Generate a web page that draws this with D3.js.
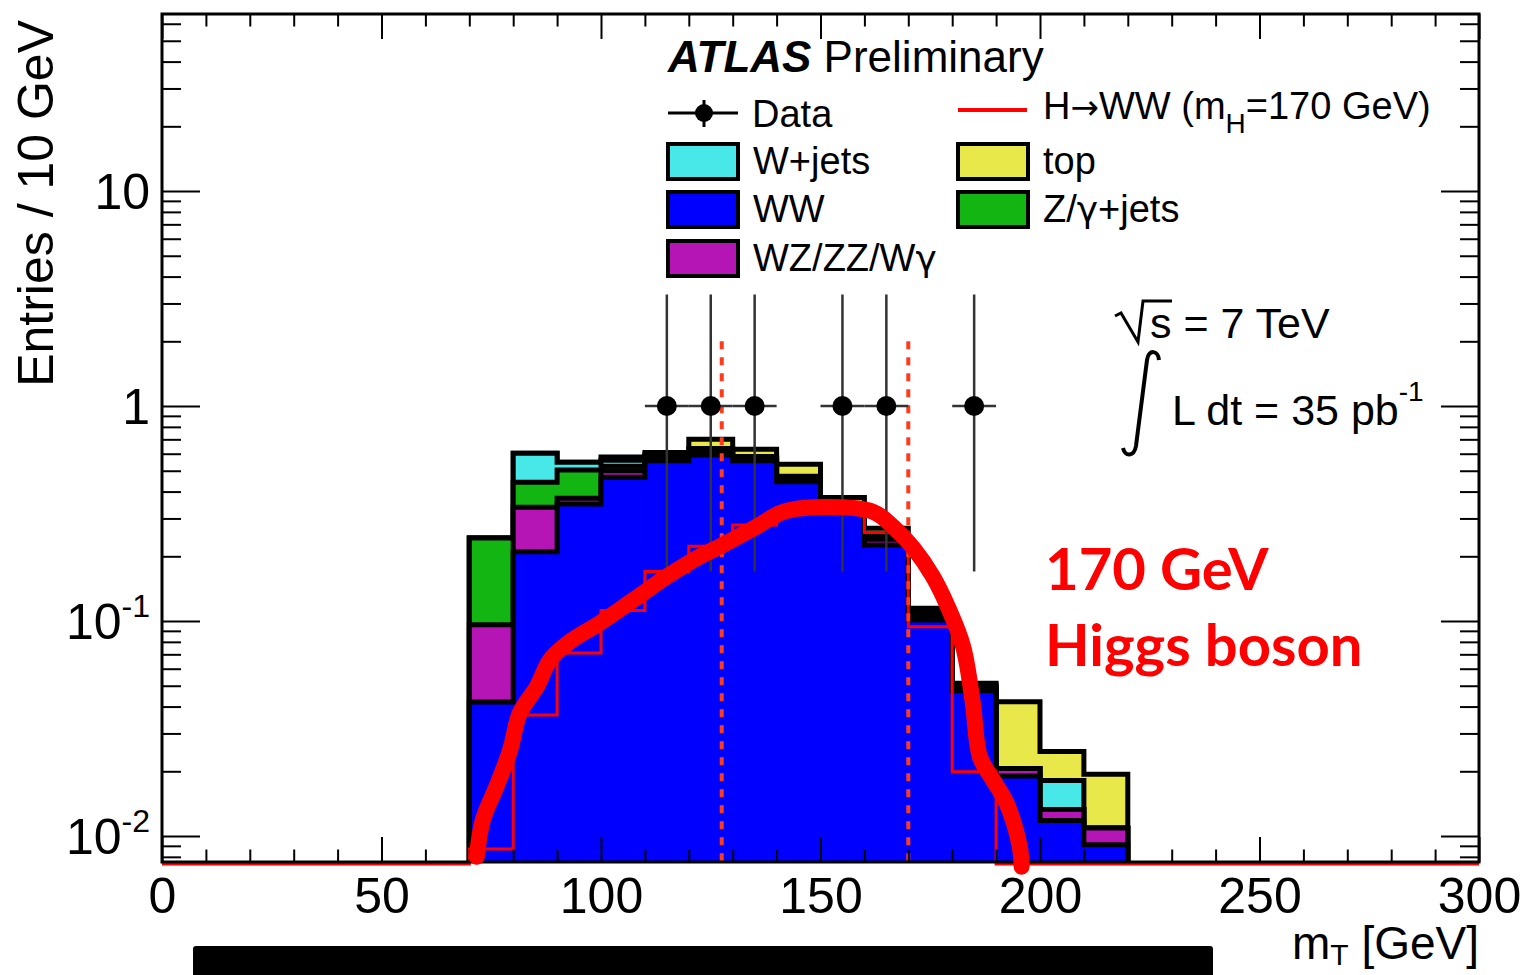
<!DOCTYPE html>
<html lang="en">
<head>
<meta charset="UTF-8">
<title>ATLAS H→WW transverse mass</title>
<script src="https://d3js.org/d3.v7.min.js"></script>
<style>
  body { margin: 0; background: #fff; }
  svg { display: block; font-family: "Liberation Sans", Arial, Helvetica, sans-serif; }
  .greek { font-family: "DejaVu Sans", sans-serif; }
</style>
</head>
<body>
<div id="chart"></div>
<script>
// bin low edges (GeV), bins are 10 GeV wide
const binLow = [70, 80, 90, 100, 110, 120, 130, 140, 150, 160, 170, 180, 190, 200, 210];
const binWidth = 10;

// stacked backgrounds, listed bottom to top
const ww     = [0.042, 0.210, 0.350, 0.466, 0.557, 0.592, 0.557, 0.445, 0.336, 0.226, 0.101, 0.0474, 0.0190, 0.0118, 0.0091];
const wzzz   = [0.054, 0.128, 0.022, 0.034, 0.015, 0.010, 0.010, 0.012, 0.007, 0.014, 0.005, 0.0015, 0.0016, 0.0015, 0.0018];
const zjets  = [0.147, 0.104, 0.132, 0.025, 0.010, 0.008, 0.006, 0.005, 0.003, 0.003, 0.001, 0.0004, 0, 0, 0];
const wjets  = [0, 0.161, 0.043, 0.035, 0.012, 0.025, 0.010, 0.010, 0.004, 0.007, 0.004, 0.0010, 0, 0.0048, 0];
const topBkg = [0, 0, 0, 0.020, 0.014, 0.065, 0.046, 0.064, 0.025, 0.020, 0.0036, 0.0010, 0.0215, 0.0066, 0.0085];

// legend text split around the greek letter: [before, greek, after]
const layerNames  = [["WW", "", ""], ["WZ/ZZ/W", "γ", ""], ["Z/", "γ", "+jets"], ["W+jets", "", ""], ["top", "", ""]];
const layerColors = ["#0000ff", "#b515b5", "#12b512", "#48e8e8", "#e8e84a"];

// H -> WW signal, mH = 170 GeV
const signal = [0.0087, 0.0365, 0.071, 0.112, 0.170, 0.223, 0.280, 0.318, 0.320, 0.258, 0.094, 0.0199, 0, 0, 0];

// data points
const dataX = [115, 125, 135, 155, 165, 185];
const dataY = [1, 1, 1, 1, 1, 1];
const dataErrUp = [2.3, 2.3, 2.3, 2.3, 2.3, 2.3];
const dataErrLo = [0.83, 0.83, 0.83, 0.83, 0.83, 0.83];

// mT cut window, 0.75 mH < mT < mH
const cutX = [127.5, 170];
const cutTop = 2;

// hand drawn highlight curve
const curveX = [71.7, 73.1, 76.2, 79.3, 81.5, 85.4, 88.4, 92.9, 99.8, 107.3, 115.0, 121.8, 127.8, 135.5, 141.5, 151.4, 162.0, 166.5, 171.1, 175.6, 179.0, 182.5, 184.7, 186.3, 189.3, 192.4, 195.4, 195.8];
const curveY = [0.0080, 0.0119, 0.0170, 0.0251, 0.0373, 0.0495, 0.0659, 0.0801, 0.098, 0.125, 0.161, 0.196, 0.226, 0.275, 0.322, 0.339, 0.322, 0.275, 0.219, 0.161, 0.1166, 0.0759, 0.0416, 0.0234, 0.0182, 0.0142, 0.0089, 0.0072];

// axes
const xTicks = [0, 50, 100, 150, 200, 250, 300];
const yTicks = [0.01, 0.1, 1, 10];
const yTickLabels = [["10", "-2"], ["10", "-1"], ["1", ""], ["10", ""]];

const W = 1524, H = 975;
const L = 162, R = 1479, T = 14, B = 862;

const svg = d3.select("#chart").append("svg")
    .attr("width", W)
    .attr("height", H);

svg.append("rect").attr("width", W).attr("height", H).attr("fill", "#fff");

const x = d3.scaleLinear().domain([0, 300]).range([L, R]);
const y = d3.scaleLog().domain([0.00757, 66.6]).range([B, T]);
const yv = v => v > 0 ? y(v) : B + 2;

svg.append("clipPath").attr("id", "plotClip")
    .append("rect").attr("x", L).attr("y", T).attr("width", R - L).attr("height", B - T);

// step outline of a binned histogram
function stepPoints(vals, xStart, xEnd) {
    const pts = [[xStart, 0], [binLow[0], 0]];
    vals.forEach((v, i) => {
        pts.push([binLow[i], v]);
        pts.push([binLow[i] + binWidth, v]);
    });
    pts.push([binLow[binLow.length - 1] + binWidth, 0]);
    pts.push([xEnd, 0]);
    return pts;
}

const line = d3.line().x(d => x(d[0])).y(d => yv(d[1]));

// cumulative stack
const layers = [ww, wzzz, zjets, wjets, topBkg];
const cum = [];
layers.forEach((l, k) => {
    cum.push(l.map((v, i) => v + (k > 0 ? cum[k - 1][i] : 0)));
});

const stack = svg.append("g").attr("clip-path", "url(#plotClip)");
for (let k = layers.length - 1; k >= 0; k--) {
    const pts = stepPoints(cum[k], binLow[0], binLow[binLow.length - 1] + binWidth);
    stack.append("path")
        .attr("d", line(pts) + "Z")
        .attr("fill", layerColors[k])
        .attr("stroke", "none");
    stack.append("path")
        .attr("d", line(pts))
        .attr("fill", "none")
        .attr("stroke", "#000")
        .attr("stroke-width", 5);
}

// signal histogram
svg.append("path")
    .attr("d", line(stepPoints(signal, 0, 300)))
    .attr("fill", "none")
    .attr("stroke", "#ff0000")
    .attr("stroke-width", 3);

// cut lines
svg.selectAll(".cut").data(cutX).join("line")
    .attr("class", "cut")
    .attr("x1", d => x(d)).attr("x2", d => x(d))
    .attr("y1", y(cutTop)).attr("y2", B)
    .attr("stroke", "#ff3b1b")
    .attr("stroke-width", 4)
    .attr("stroke-dasharray", "8,8");

// data points
const pts = svg.append("g");
dataX.forEach((dx, i) => {
    pts.append("line")
        .attr("x1", x(dx)).attr("x2", x(dx))
        .attr("y1", y(dataY[i] + dataErrUp[i])).attr("y2", y(dataY[i] - dataErrLo[i]))
        .attr("stroke", "#333").attr("stroke-width", 2.5);
    pts.append("line")
        .attr("x1", x(dx - binWidth / 2)).attr("x2", x(dx + binWidth / 2))
        .attr("y1", y(dataY[i])).attr("y2", y(dataY[i]))
        .attr("stroke", "#333").attr("stroke-width", 2.5);
    pts.append("circle")
        .attr("cx", x(dx)).attr("cy", y(dataY[i])).attr("r", 10)
        .attr("fill", "#000");
});

// axes with ticks on all sides, pointing inward
const xMinor = d3.range(10, 300, 10).filter(v => v % 50 !== 0);
const yMinor = [];
[0.001, 0.01, 0.1, 1, 10].forEach(d => {
    for (let m = 2; m <= 9; m++) {
        const v = m * d;
        if (v >= 0.00757 && v <= 66.6) yMinor.push(v);
    }
});

function styleAxis(g) {
    g.select(".domain").remove();
    g.selectAll("line").attr("stroke", "#000").attr("stroke-width", 2);
}

svg.append("g").attr("transform", `translate(0,${B})`)
    .call(d3.axisBottom(x).tickValues(xTicks).tickSize(-25).tickSizeOuter(0).tickPadding(15).tickFormat(d3.format("d")))
    .call(styleAxis)
    .call(g => g.selectAll("text").attr("font-size", 50).attr("fill", "#000")
        .attr("font-family", "Liberation Sans, Arial, sans-serif"));
svg.append("g").attr("transform", `translate(0,${B})`)
    .call(d3.axisBottom(x).tickValues(xMinor).tickSize(-12.5).tickSizeOuter(0).tickFormat(""))
    .call(styleAxis);
svg.append("g").attr("transform", `translate(0,${T})`)
    .call(d3.axisTop(x).tickValues(xTicks).tickSize(-25).tickSizeOuter(0).tickFormat(""))
    .call(styleAxis);
svg.append("g").attr("transform", `translate(0,${T})`)
    .call(d3.axisTop(x).tickValues(xMinor).tickSize(-12.5).tickSizeOuter(0).tickFormat(""))
    .call(styleAxis);
svg.append("g").attr("transform", `translate(${L},0)`)
    .call(d3.axisLeft(y).tickValues(yTicks).tickSize(-38).tickSizeOuter(0).tickFormat(""))
    .call(styleAxis);
svg.append("g").attr("transform", `translate(${L},0)`)
    .call(d3.axisLeft(y).tickValues(yMinor).tickSize(-19).tickSizeOuter(0).tickFormat(""))
    .call(styleAxis);
svg.append("g").attr("transform", `translate(${R},0)`)
    .call(d3.axisRight(y).tickValues(yTicks).tickSize(-38).tickSizeOuter(0).tickFormat(""))
    .call(styleAxis);
svg.append("g").attr("transform", `translate(${R},0)`)
    .call(d3.axisRight(y).tickValues(yMinor).tickSize(-19).tickSizeOuter(0).tickFormat(""))
    .call(styleAxis);

svg.append("rect")
    .attr("x", L).attr("y", T).attr("width", R - L).attr("height", B - T)
    .attr("fill", "none").attr("stroke", "#000").attr("stroke-width", 3);

// y tick labels with exponents
yTicks.forEach((v, i) => {
    const t = svg.append("text")
        .attr("x", 150).attr("y", y(v) + 18)
        .attr("text-anchor", "end")
        .attr("font-size", 50);
    t.append("tspan").text(yTickLabels[i][0]);
    if (yTickLabels[i][1]) {
        t.append("tspan").attr("dy", -22).attr("font-size", 32).text(yTickLabels[i][1]);
    }
});

// axis titles
svg.append("text")
    .attr("transform", "translate(53,20) rotate(-90)")
    .attr("text-anchor", "end")
    .attr("font-size", 50)
    .text("Entries / 10 GeV");

const xt = svg.append("text")
    .attr("x", R).attr("y", 959)
    .attr("text-anchor", "end")
    .attr("font-size", 46);
xt.append("tspan").text("m");
xt.append("tspan").attr("dy", 6).attr("font-size", 30).text("T");
xt.append("tspan").attr("dy", -6).text(" [GeV]");

// ATLAS label
const atlas = svg.append("text").attr("x", 668).attr("y", 72).attr("font-size", 44);
atlas.append("tspan").attr("font-weight", "bold").attr("font-style", "italic").text("ATLAS");
atlas.append("tspan").text(" Preliminary");

// legend
const rowY = [113, 161, 209, 258];
const legendFont = 38;
const leg = svg.append("g");

// data entry
leg.append("line").attr("x1", 668).attr("x2", 738).attr("y1", rowY[0]).attr("y2", rowY[0])
    .attr("stroke", "#000").attr("stroke-width", 3);
leg.append("line").attr("x1", 704).attr("x2", 704).attr("y1", rowY[0] - 13).attr("y2", rowY[0] + 14)
    .attr("stroke", "#000").attr("stroke-width", 3);
leg.append("circle").attr("cx", 704).attr("cy", rowY[0]).attr("r", 9).attr("fill", "#000");
leg.append("text").attr("x", 752).attr("y", rowY[0] + 14).attr("font-size", legendFont).text("Data");

// signal entry
leg.append("line").attr("x1", 958).attr("x2", 1027).attr("y1", rowY[0] - 3).attr("y2", rowY[0] - 3)
    .attr("stroke", "#ff0000").attr("stroke-width", 4);
const sigT = leg.append("text").attr("x", 1043).attr("y", rowY[0] + 6).attr("font-size", legendFont);
sigT.append("tspan").text("H");
sigT.append("tspan").attr("class", "greek").attr("font-size", 34).text("→");
sigT.append("tspan").text("WW (m");
sigT.append("tspan").attr("dy", 14).attr("font-size", 28).text("H");
sigT.append("tspan").attr("dy", -14).text("=170 GeV)");

// background boxes: [layer index, column x, row]
const legendBoxes = [[3, 668, 1], [0, 668, 2], [1, 668, 3], [4, 958, 1], [2, 958, 2]];
legendBoxes.forEach(([k, bx, r]) => {
    leg.append("rect")
        .attr("x", bx).attr("y", rowY[r] - 17).attr("width", 70).attr("height", 35)
        .attr("fill", layerColors[k]).attr("stroke", "#000").attr("stroke-width", 4);
    const t = leg.append("text")
        .attr("x", bx + 85).attr("y", rowY[r] + 13)
        .attr("font-size", legendFont);
    const [a, g, b] = layerNames[k];
    t.append("tspan").text(a);
    if (g) t.append("tspan").attr("class", "greek").attr("font-size", 36).text(g);
    if (b) t.append("tspan").text(b);
});

// energy and luminosity
svg.append("path")
    .attr("d", "M1115,316 L1121,313 L1138,342 L1143,301 L1172,301")
    .attr("fill", "none").attr("stroke", "#000").attr("stroke-width", 3);
svg.append("text").attr("x", 1150).attr("y", 338).attr("font-size", 43).text("s = 7 TeV");
svg.append("path")
    .attr("d", "M1159,360 C1158,350 1149,349 1147,360 L1136,446 C1134,457 1125,457 1123,448")
    .attr("fill", "none").attr("stroke", "#000").attr("stroke-width", 4);
const lumi = svg.append("text").attr("x", 1172).attr("y", 425).attr("font-size", 43);
lumi.append("tspan").text("L dt = 35 pb");
lumi.append("tspan").attr("dy", -24).attr("font-size", 28).text("-1");

// highlight curve and annotation
svg.append("path")
    .datum(curveX.map((cx, i) => [cx, curveY[i]]))
    .attr("d", d3.line().x(d => x(d[0])).y(d => y(d[1])).curve(d3.curveCatmullRom))
    .attr("fill", "none")
    .attr("stroke", "#ff0000")
    .attr("stroke-width", 16)
    .attr("stroke-linecap", "round")
    .attr("stroke-linejoin", "round");

const note = svg.append("g")
    .attr("font-family", "Lato, 'Open Sans', sans-serif")
    .attr("font-weight", "bold")
    .attr("font-size", 58)
    .attr("fill", "#ff0000");
note.append("text").attr("x", 1045).attr("y", 590).text("170 GeV");
note.append("text").attr("x", 1045).attr("y", 666).text("Higgs boson");

// redaction bar
svg.append("rect")
    .attr("x", 193).attr("y", 946).attr("width", 1020).attr("height", 40)
    .attr("rx", 3).attr("fill", "#000");
</script>
</body>
</html>
